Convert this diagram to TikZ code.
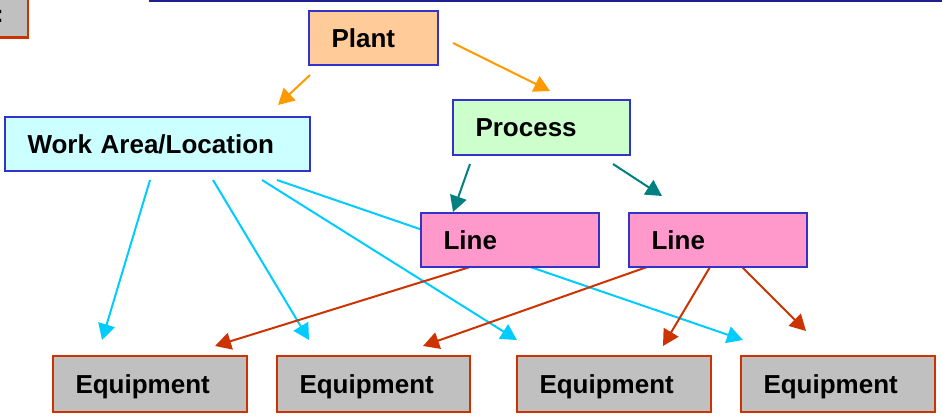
\documentclass[tikz,border=0pt]{standalone}
\usepackage{fontspec}
\setmainfont{Liberation Sans}
\usetikzlibrary{arrows.meta}
\definecolor{boxblue}{HTML}{3333CC}
\definecolor{topblue}{HTML}{202090}
\definecolor{plantfill}{HTML}{FFCC99}
\definecolor{workfill}{HTML}{CCFFFF}
\definecolor{procfill}{HTML}{CCFFCC}
\definecolor{linefill}{HTML}{FF99CC}
\definecolor{eqfill}{HTML}{C0C0C0}
\definecolor{eqborder}{HTML}{CC3300}
\definecolor{corange}{HTML}{FF9900}
\definecolor{cteal}{HTML}{008080}
\definecolor{ccyan}{HTML}{00CCFF}
\definecolor{cred}{HTML}{CC3300}
\tikzset{
  boxbase/.style={rectangle, line width=2.5pt, font=\fontsize{26}{30}\selectfont\bfseries,
    inner xsep=22.5pt, inner ysep=0pt, align=left, text height=19pt, text depth=0pt},
  bluebox/.style={boxbase, draw=boxblue},
  eqbox/.style={boxbase, draw=eqborder, fill=eqfill, text width=149pt, minimum height=56pt},
  conn/.style={line width=2pt, -{Triangle[length=16pt,width=17pt]}},
}
\begin{document}
\begin{tikzpicture}[x=1pt,y=-1pt]
\useasboundingbox (0,0) rectangle (942,417);
\clip (0,0) rectangle (942,417);

% top rule
\coordinate (ruleA) at (149,1);
\coordinate (ruleB) at (945,1);
\draw[topblue, line width=1.6pt] (ruleA) -- (ruleB);

% connector end points
\coordinate (p1s) at (310,75);   \coordinate (p1e) at (278,105);
\coordinate (p2s) at (453,43);   \coordinate (p2e) at (550,91);
\coordinate (r1s) at (470,164);  \coordinate (r1e) at (453,212);
\coordinate (r2s) at (613,164);  \coordinate (r2e) at (662,196);
\coordinate (w1s) at (150,180);  \coordinate (w1e) at (102,340);
\coordinate (w2s) at (213,180);  \coordinate (w2e) at (309,340);
\coordinate (w3s) at (262,180);  \coordinate (w3e) at (517,340);
\coordinate (w4s) at (277,180);  \coordinate (w4e) at (743,340);
\coordinate (l1s) at (470,267);  \coordinate (l1e) at (215,346);
\coordinate (l2s) at (647,267);  \coordinate (l2e) at (423,346);
\coordinate (l3s) at (710,267);  \coordinate (l3e) at (663,346);
\coordinate (l4s) at (742,267);  \coordinate (l4e) at (806,331);

\draw[conn, corange] (p1s) -- (p1e);
\draw[conn, corange] (p2s) -- (p2e);
\draw[conn, cteal] (r1s) -- (r1e);
\draw[conn, cteal] (r2s) -- (r2e);
\draw[conn, ccyan] (w1s) -- (w1e);
\draw[conn, ccyan] (w2s) -- (w2e);
\draw[conn, ccyan] (w3s) -- (w3e);
\draw[conn, ccyan] (w4s) -- (w4e);
\draw[conn, cred] (l1s) -- (l1e);
\draw[conn, cred] (l2s) -- (l2e);
\draw[conn, cred] (l3s) -- (l3e);
\draw[conn, cred] (l4s) -- (l4e);

% corner box
\node[rectangle, draw=eqborder, fill=eqfill, line width=2.5pt, minimum width=89pt,
      minimum height=49pt, anchor=south east] (corner) at (29,39) {};
\node[font=\fontsize{24}{28}\selectfont\bfseries, inner sep=0pt, anchor=base west] (colon) at (-4.5,22.5) {:};

% nodes
\node[bluebox, fill=plantfill, text width=84pt, minimum height=54pt] (plant) at (373.5,38) {Plant};
\node[bluebox, fill=workfill, text width=260pt, minimum height=54pt] (work) at (157.5,144) {Work Area/Location};
\node[bluebox, fill=procfill, text width=132pt, minimum height=55pt] (process) at (541.5,127.5) {Process};
\node[bluebox, fill=linefill, text width=133pt, minimum height=54pt] (line1) at (510,240) {Line};
\node[bluebox, fill=linefill, text width=133pt, minimum height=54pt] (line2) at (718,240) {Line};
\node[eqbox] (eq1) at (150,384) {Equipment};
\node[eqbox, text width=148pt] (eq2) at (373.5,384) {Equipment};
\node[eqbox] (eq3) at (614,384) {Equipment};
\node[eqbox] (eq4) at (838,384) {Equipment};
\end{tikzpicture}
\end{document}
